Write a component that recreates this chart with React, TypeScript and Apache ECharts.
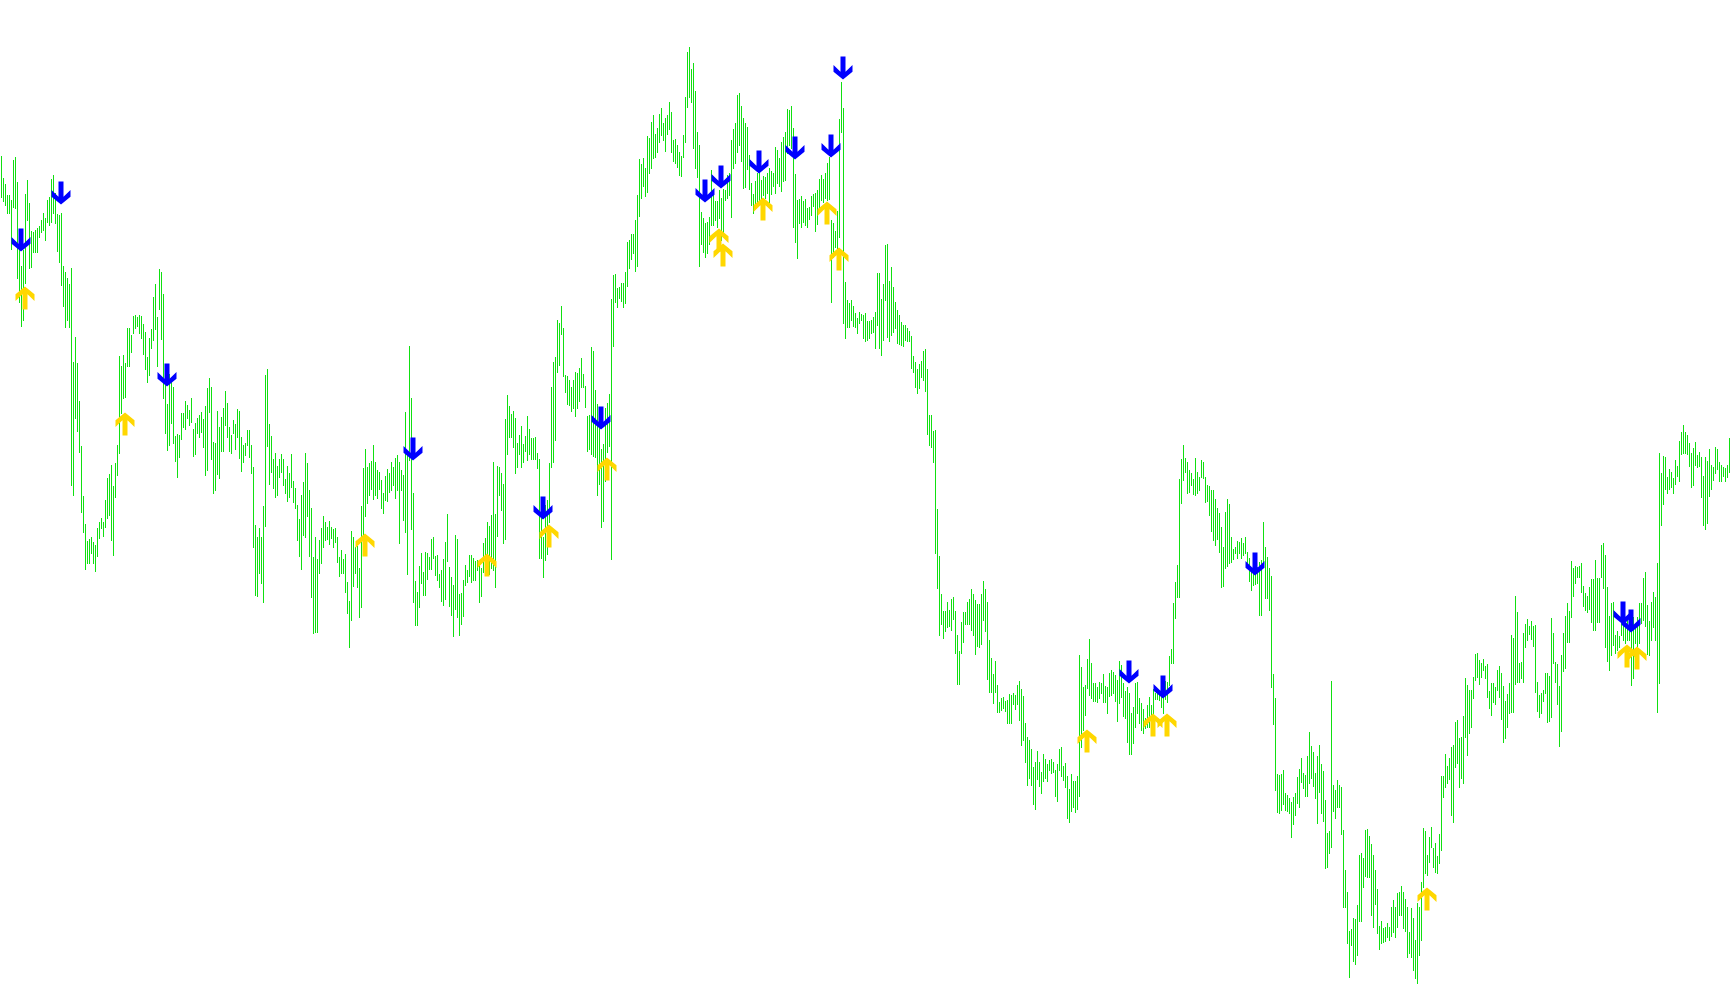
import React, { useEffect, useRef } from "react";
import * as echarts from "echarts";

// Bar highs / lows (price points), one bar per category
const highs: number[] = [
  849,827,821,810,810,805,845,848,823,758, 739,755,811,825,802,774,773,775,777,779,
  785,792,787,805,808,826,830,812,791,790, 792,739,733,727,721,737,643,668,642,604,
  559,509,481,464,466,468,463,460,477,483, 487,483,505,527,531,540,519,542,560,649,
  639,650,642,677,677,670,689,690,688,690, 689,681,673,648,667,676,708,721,688,736,
  733,711,628,601,631,625,618,569,571,570, 592,592,604,600,595,607,576,582,587,590,
  593,586,599,617,627,618,563,562,
  594,578,588,597,614,602,578,570,585,581, 596,594,568,560,562,575,575,560,538,480,
  468,477,468,499,630,636,581,569,546,552, 539,546,551,546,526,539,532,551,524,517,
  500,486,510,523,552,542,515,497,448,468, 446,465,477,489,483,478,484,478,476,477,
  468,448,455,446,451,423,404,474,468,458, 459,437,499,537,556,538,542,544,560,543,
  535,533,525,512,529,536,532,543,538,547, 550,543,535,530,593,554,659,607,512,424,
  413,439,452,433,453,452,448,466,
  468,449,450,431,435,446,463,491,438,428, 420,470,466,411,412,425,440,435,450,450,
  447,444,445,441,437,462,467,483,479,490, 543,491,539,538,532,521,586,610,599,591,
  594,587,562,570,579,561,569,589,576,567, 567,568,552,546,489,468,500,505,542,618,
  643,648,685,682,699,677,630,629,625,618, 625,633,632,637,647,631,619,589,590,658,
  654,615,601,583,556,561,597,602,611,706, 730,731,717,718,722,722,733,763,765,771,
  771,785,810,846,841,847,837,869,
  867,883,890,871,877,891,897,882,887,890, 903,893,865,866,860,853,849,870,908,953,
  958,936,942,914,873,860,793,787,782,783, 788,835,815,804,804,815,807,816,815,830,
  832,865,876,882,910,912,899,887,882,878, 850,822,811,824,832,833,825,829,828,832,
  837,834,832,858,855,847,863,868,873,896, 895,899,877,831,805,806,809,804,806,797,
  798,809,811,812,815,826,830,826,832,842, 848,785,782,774,794,886,923,897,723,705,
  702,705,699,692,687,693,691,690,
  692,684,684,685,688,693,732,732,706,721, 760,761,724,738,718,703,695,690,683,680,
  680,677,674,669,649,643,636,641,644,654, 656,636,590,590,574,575,496,449,411,394,
  394,403,395,406,408,394,370,354,383,393, 393,403,406,416,411,405,401,401,411,424,
  416,403,365,347,331,344,320,303,307,308, 304,305,311,310,312,310,320,324,316,309,
  282,268,265,256,238,243,254,243,233,251, 246,241,245,246,243,235,241,256,258,239,
  242,229,216,231,224,224,229,350,
  338,318,320,346,366,342,322,322,318,323, 322,331,319,318,332,335,333,330,325,344,
  340,322,314,318,312,292,298,322,323,307, 302,296,287,300,308,300,316,312,315,312,
  312,315,324,323,349,356,402,423,440,526, 546,560,547,543,535,532,526,547,533,528,
  545,543,528,520,519,515,515,506,497,492, 478,458,493,506,501,468,456,458,464,463,
  467,462,468,453,447,436,433,431,438,443, 445,483,458,448,437,429,331,307,231,230,
  231,235,212,210,207,203,208,212,
  228,236,247,232,230,249,273,259,253,232, 249,260,241,234,205,172,174,324,220,215,
  225,220,218,175,135,113,74,76,87,86, 100,150,152,147,175,176,169,161,150,135,
  116,79,84,77,78,82,78,98,105,98, 112,113,119,113,106,98,73,97,87,65,
  102,98,123,177,174,150,168,178,157,162, 149,171,229,229,251,239,247,258,260,283,
  285,267,268,289,327,320,315,315,328,351, 352,345,342,346,339,341,314,322,322,318,
  335,339,332,319,304,311,322,370,
  367,409,393,342,343,372,381,386,379,384, 379,380,323,310,312,315,332,332,329,387,
  372,343,341,319,350,372,389,402,394,444, 437,439,438,439,442,419,412,409,418,426,
  426,445,427,427,460,462,450,418,389,402, 403,370,374,369,397,382,378,388,375,385,
  388,378,388,402,402,427,433,400,384,403, 413,408,442,552,532,549,548,528,536,533,
  527,545,539,564,573,580,573,570,562,552, 557,563,550,553,548,529,548,544,556,540,
  538,558,556,543,540,538,537,540,567,
];

const lows: number[] = [
  808,804,800,792,792,756,798,797,727,703, 679,685,722,785,737,738,753,753,753,768,
  773,775,765,783,780,783,792,782,754,743, 720,699,678,685,678,520,510,587,574,553,
  493,473,436,442,442,452,442,434,449,467, 477,469,478,487,490,465,450,508,530,552,
  592,607,608,639,639,653,672,677,679,672, 667,651,636,623,630,657,665,676,639,696,
  666,607,572,555,560,582,562,544,528,548, 566,578,576,587,580,583,549,551,572,568,
  573,558,530,535,593,546,512,515,
  531,527,554,554,580,568,554,552,572,556, 568,547,534,543,550,560,548,532,458,410,
  409,432,422,403,479,559,521,533,517,508, 510,528,533,520,512,504,508,518,503,497,
  465,449,436,470,468,489,449,408,372,373, 373,432,442,458,465,466,461,467,458,463,
  443,429,432,432,413,392,358,385,419,432, 418,388,398,463,489,502,510,516,506,510,
  507,516,497,492,505,504,513,515,520,507, 515,462,515,485,473,431,545,476,403,380,
  380,398,422,410,410,426,436,436,
  447,430,425,418,404,400,406,444,399,390, 369,396,388,370,381,389,420,423,429,423,
  425,425,435,403,409,433,438,440,431,437, 435,418,469,510,495,462,466,551,568,568,
  558,532,538,551,538,543,554,545,551,546, 546,546,537,447,447,428,445,451,483,538,
  543,565,633,640,671,629,613,601,600,594, 597,589,597,604,618,618,598,554,556,551,
  549,548,510,521,478,484,524,553,559,446, 659,703,698,707,704,698,702,719,737,746,
  752,734,739,789,807,819,809,813,
  832,837,847,848,853,863,870,865,854,871, 876,853,844,842,838,830,829,848,863,898,
  908,903,857,837,828,739,761,753,748,752, 761,780,780,785,778,787,765,772,805,807,
  810,788,837,842,853,860,844,817,818,836, 816,800,792,797,800,805,799,810,807,812,
  803,811,819,812,822,819,814,824,825,852, 860,857,778,763,747,782,778,783,780,778,
  786,790,799,774,781,798,805,803,807,805, 806,703,748,758,757,768,873,682,667,678,
  678,685,679,678,672,682,685,667,
  664,665,667,672,673,657,680,657,650,665, 705,668,664,670,673,677,662,661,660,659,
  665,664,664,637,633,618,612,617,628,625, 614,571,560,558,543,452,417,370,381,367,
  374,378,379,375,386,352,321,321,352,363, 381,381,381,375,370,351,359,358,361,385,
  374,326,313,313,302,313,293,293,295,297, 294,282,282,282,301,296,301,285,260,265,
  243,220,227,220,201,196,226,219,212,224, 227,224,235,232,233,209,204,235,229,225,
  218,187,183,194,198,193,196,209,
  258,275,290,317,310,307,304,304,303,307, 312,303,303,292,309,310,312,304,284,302,
  308,289,287,263,251,251,262,278,292,282, 275,272,277,278,278,279,288,306,306,305,
  298,292,306,303,320,342,342,387,408,408, 502,525,533,512,513,520,511,510,512,515,
  528,527,503,504,490,474,465,460,466,453, 418,419,437,439,442,443,446,452,447,452,
  447,450,452,440,424,415,420,421,422,390, 390,443,407,407,395,318,281,215,193,192,
  195,201,195,194,192,168,181,190,
  202,198,223,217,209,209,222,227,219,207, 182,213,192,184,137,138,152,158,194,187,
  198,198,171,98,98,62,28,60,44,41, 50,84,84,118,129,128,128,90,78,101,
  72,56,62,63,64,68,65,69,73,68, 78,90,90,77,74,48,52,48,35,27,
  22,50,65,118,132,130,143,158,138,133, 132,142,155,208,218,222,226,190,183,238,
  242,218,227,222,268,250,272,278,307,325, 328,321,328,335,327,308,297,290,303,301,
  315,308,286,263,267,278,292,293,
  293,321,323,323,327,323,358,365,371,366, 359,313,294,288,292,304,312,283,284,288,
  342,323,301,259,274,334,337,363,363,388, 409,422,428,428,413,399,395,393,396,383,
  375,375,383,383,428,417,358,344,335,350, 360,352,355,358,370,365,362,365,365,320,
  327,362,355,362,382,385,379,351,350,365, 378,365,293,322,480,501,516,512,516,518,
  512,521,529,524,551,552,552,551,539,518, 520,540,538,539,508,480,476,482,509,516,
  525,532,536,524,524,529,524,528,533,
];

// Signal arrows: bar index and level (price points)
const downIdx: number[] = [10, 30, 83, 206, 271, 300, 352, 360, 379, 397, 415, 421, 564, 581, 627, 811, 815];
const downLevel: number[] = [765, 812, 630, 556, 497, 587, 814, 828, 843, 857, 859, 937, 333, 318, 441, 392, 384];
const upIdx: number[] = [12, 62, 182, 243, 274, 303, 359, 361, 381, 413, 419, 543, 576, 583, 713, 813, 818];
const upLevel: number[] = [707, 581, 460, 440, 469, 536, 765, 750, 796, 792, 746, 264, 280, 280, 106, 349, 347];

const Y_MIN = 0;
const Y_MAX = 1005;

const DOWN_PATH = "path://M7,0 L12,0 L12,15.5 L19,8.5 L19,15.5 L9.5,23.3 L0,15.5 L0,8.5 L7,15.5 Z";
const UP_PATH = "path://M7,23.3 L12,23.3 L12,7.8 L19,14.8 L19,7.8 L9.5,0 L0,7.8 L0,14.8 L7,7.8 Z";

export default function App() {
  const ref = useRef<HTMLDivElement>(null);

  useEffect(() => {
    if (!ref.current) return;
    const chart = echarts.init(ref.current, null, { renderer: "svg" });
    const categories = highs.map((_, i) => String(i));
    const barData = highs.map((h, i) => [i, h, lows[i]]);

    chart.setOption({
      animation: false,
      backgroundColor: "#ffffff",
      grid: { left: 0, right: 0, top: 0, bottom: 0, containLabel: false },
      xAxis: {
        type: "category",
        data: categories,
        show: false,
        boundaryGap: true,
      },
      yAxis: {
        type: "value",
        min: Y_MIN,
        max: Y_MAX,
        show: false,
        splitLine: { show: false },
      },
      series: [
        {
          type: "custom",
          silent: true,
          progressive: 0,
          encode: { x: 0, y: [1, 2] },
          data: barData,
          renderItem: (params: any, api: any) => {
            const top = api.coord([api.value(0), api.value(1)]);
            const bot = api.coord([api.value(0), api.value(2)]);
            const px = Math.round(top[0]);
            const y1 = Math.round(top[1]);
            const y2 = Math.round(bot[1]);
            return {
              type: "rect",
              shape: { x: px, y: y1, width: 1, height: Math.max(1, y2 - y1 + 1) },
              style: { fill: "#11e011", stroke: null },
            };
          },
        },
        {
          type: "scatter",
          silent: true,
          symbol: DOWN_PATH,
          symbolSize: [19, 23],
          itemStyle: { color: "#0000ff", opacity: 1 },
          data: downIdx.map((k, i) => [k, downLevel[i]]),
          z: 5,
        },
        {
          type: "scatter",
          silent: true,
          symbol: UP_PATH,
          symbolSize: [19, 23],
          itemStyle: { color: "#ffd700", opacity: 1 },
          data: upIdx.map((k, i) => [k, upLevel[i]]),
          z: 5,
        },
      ],
    });

    return () => {
      chart.dispose();
    };
  }, []);

  return (
    <div
      ref={ref}
      style={{ position: "absolute", left: 0, top: 0, width: 1730, height: 1005, background: "#fff" }}
    />
  );
}
